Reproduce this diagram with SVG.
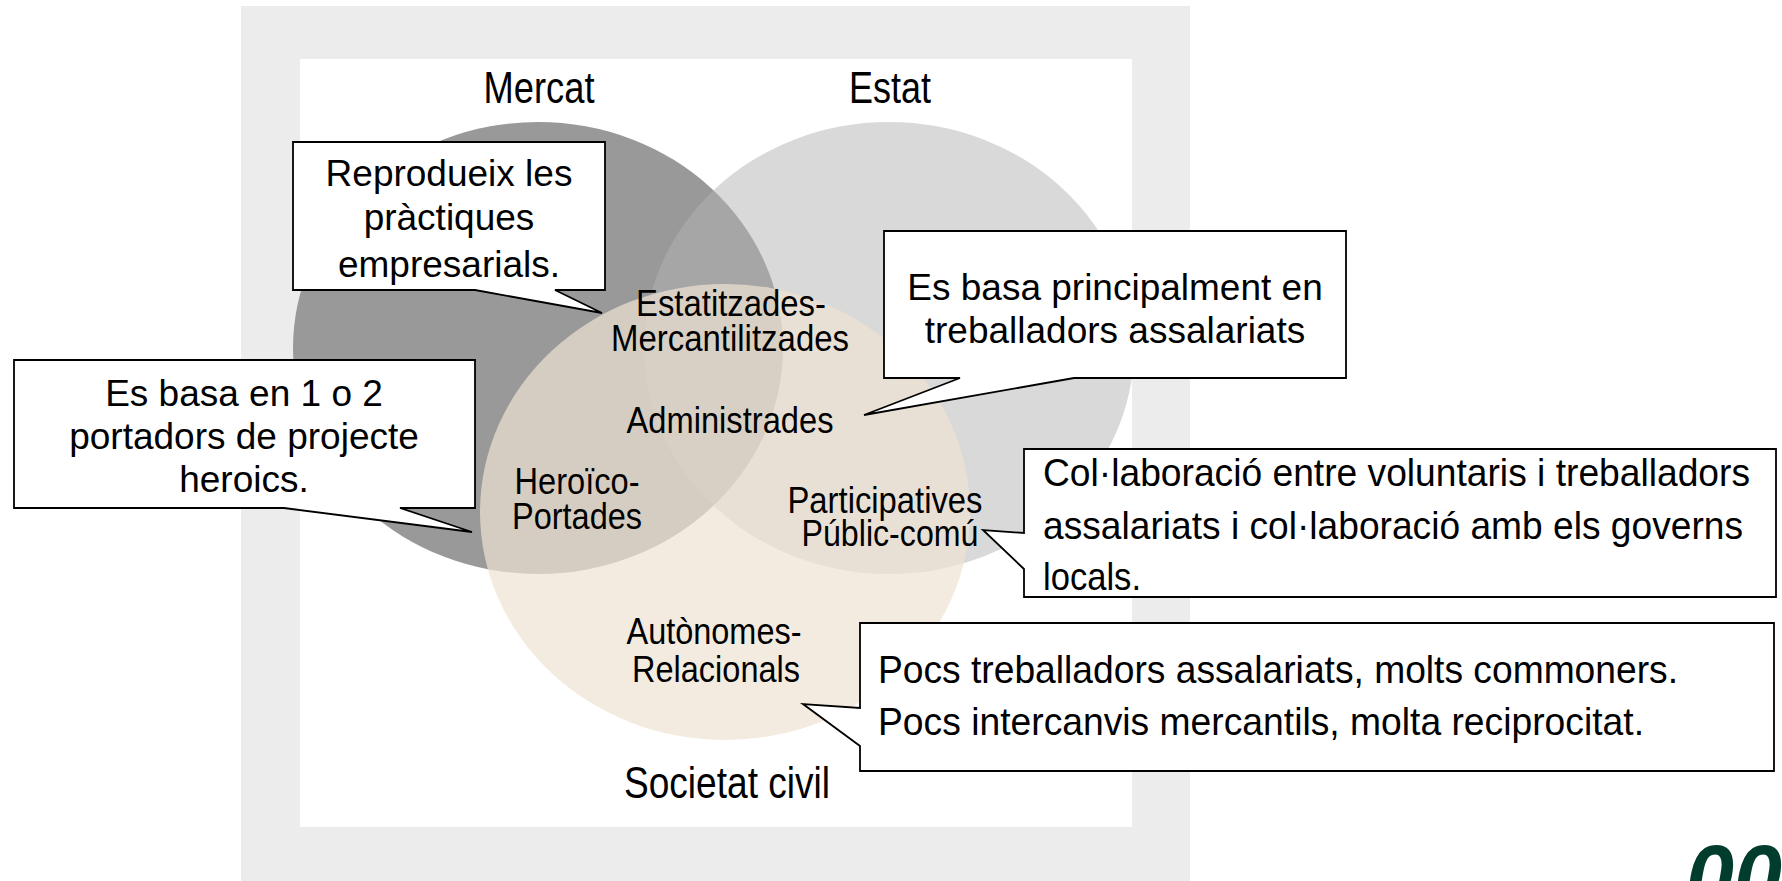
<svg xmlns="http://www.w3.org/2000/svg" width="1782" height="881" viewBox="0 0 1782 881">
<style>
.bub{fill:#ffffff;stroke:#000000;stroke-width:1.8;stroke-linejoin:miter}
.bt{font-family:"Liberation Sans",Arial,sans-serif;font-size:37px;fill:#000;text-anchor:middle}
.bc{font-family:"Liberation Sans",Arial,sans-serif;font-size:39px;fill:#000}
.lb{font-family:"Liberation Sans",Arial,sans-serif;font-size:37px;fill:#000;text-anchor:middle}
.big{font-family:"Liberation Sans",Arial,sans-serif;font-size:44px;fill:#000;text-anchor:middle}
</style>
<rect x="0" y="0" width="1782" height="881" fill="#ffffff"/>
<g id="background">
<rect x="241" y="6" width="949" height="875" fill="#ececec"/>
<rect x="300" y="59" width="832" height="768" fill="#ffffff"/>
</g>
<g id="circles">
<ellipse id="mercat-circle" cx="538" cy="348" rx="245" ry="226" fill="#999999"/>
<ellipse id="estat-circle" cx="889" cy="348" rx="245" ry="226" fill="#b3b3b3" fill-opacity="0.5"/>
<ellipse id="societat-circle" cx="725" cy="512" rx="245" ry="228" fill="#eee2d2" fill-opacity="0.7"/>
</g>
<g id="labels">
<text id="lbl-mercat" class="big" x="539" y="103" textLength="111" lengthAdjust="spacingAndGlyphs">Mercat</text>
<text id="lbl-estat" class="big" x="890" y="103" textLength="82" lengthAdjust="spacingAndGlyphs">Estat</text>
<text id="lbl-societat" class="big" x="727" y="798" textLength="206" lengthAdjust="spacingAndGlyphs">Societat civil</text>
<g id="node-estatitzades">
<text class="lb" x="731" y="316" textLength="190" lengthAdjust="spacingAndGlyphs">Estatitzades-</text>
<text class="lb" x="730" y="351" textLength="238" lengthAdjust="spacingAndGlyphs">Mercantilitzades</text>
</g>
<g id="node-administrades">
<text class="lb" x="730" y="433" textLength="207" lengthAdjust="spacingAndGlyphs">Administrades</text>
</g>
<g id="node-heroico">
<text class="lb" x="577" y="494" textLength="125" lengthAdjust="spacingAndGlyphs">Heroïco-</text>
<text class="lb" x="577" y="529" textLength="130" lengthAdjust="spacingAndGlyphs">Portades</text>
</g>
<g id="node-participatives">
<text class="lb" x="885" y="513" textLength="195" lengthAdjust="spacingAndGlyphs">Participatives</text>
<text class="lb" x="890" y="546" textLength="177" lengthAdjust="spacingAndGlyphs">Públic-comú</text>
</g>
<g id="node-autonomes">
<text class="lb" x="714" y="644" textLength="175" lengthAdjust="spacingAndGlyphs">Autònomes-</text>
<text class="lb" x="716" y="682" textLength="168" lengthAdjust="spacingAndGlyphs">Relacionals</text>
</g>
</g>
<g id="callout-reprodueix">
<path class="bub" d="M293,142 H605 V290 H555 L602,313 L475,290 H293 Z"/>
<text class="bt" x="449" y="186">Reprodueix les</text>
<text class="bt" x="449" y="230">pràctiques</text>
<text class="bt" x="449" y="277">empresarials.</text>
</g>
<g id="callout-portadors">
<path class="bub" d="M14,360 H475 V508 H400 L472,532 L284,508 H14 Z"/>
<text class="bt" x="244" y="406">Es basa en 1 o 2</text>
<text class="bt" x="244" y="449">portadors de projecte</text>
<text class="bt" x="244" y="492">heroics.</text>
</g>
<g id="callout-assalariats">
<path class="bub" d="M884,231 H1346 V378 H1074 L864,415 L960,378 H884 Z"/>
<text class="bt" x="1115" y="300">Es basa principalment en</text>
<text class="bt" x="1115" y="343">treballadors assalariats</text>
</g>
<g id="callout-collaboracio">
<path class="bub" d="M1024,449 H1776 V597 H1024 V569 L983,530 L1024,533 Z"/>
<text class="bc" x="1043" y="486" textLength="707" lengthAdjust="spacingAndGlyphs">Col·laboració entre voluntaris i treballadors</text>
<text class="bc" x="1043" y="539" textLength="700" lengthAdjust="spacingAndGlyphs">assalariats i col·laboració amb els governs</text>
<text class="bc" x="1043" y="590" textLength="98" lengthAdjust="spacingAndGlyphs">locals.</text>
</g>
<g id="callout-commoners">
<path class="bub" d="M860,623 H1774 V771 H860 V746 L803,704 L860,708 Z"/>
<text class="bc" x="878" y="683" textLength="800" lengthAdjust="spacingAndGlyphs">Pocs treballadors assalariats, molts commoners.</text>
<text class="bc" x="878" y="735" textLength="766" lengthAdjust="spacingAndGlyphs">Pocs intercanvis mercantils, molta reciprocitat.</text>
</g>
<g id="logo">
<text x="1686" y="906" font-family="Liberation Sans, Arial, sans-serif" font-size="88" font-weight="bold" font-style="italic" fill="#003d2c" textLength="96" lengthAdjust="spacingAndGlyphs">00</text>
</g>
</svg>
